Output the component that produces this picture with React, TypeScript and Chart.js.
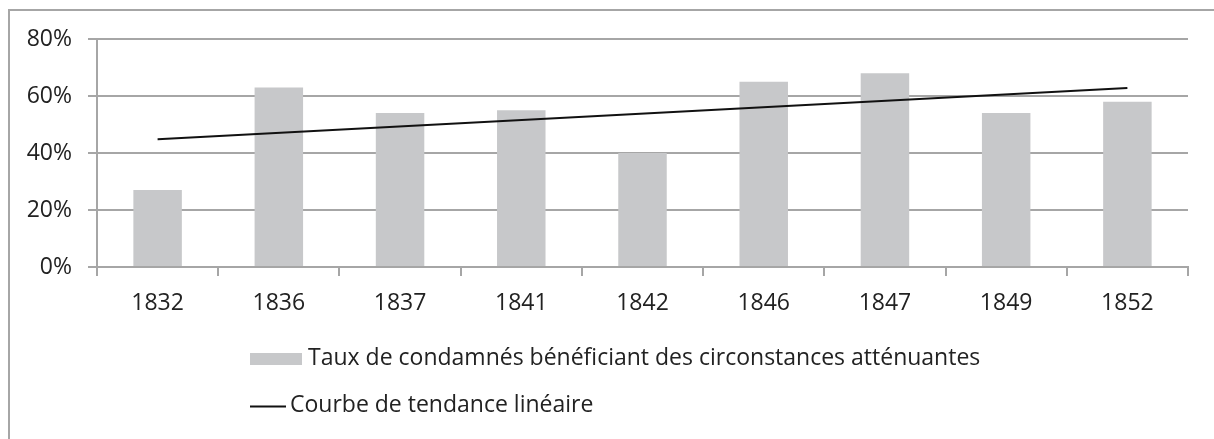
import React, { useEffect, useRef } from "react";
import { Chart, registerables } from "chart.js";

Chart.register(...registerables);

const categories = ["1832", "1836", "1837", "1841", "1842", "1846", "1847", "1849", "1852"];
const rateValues = [27, 63, 54, 55, 40, 65, 68, 54, 58];
const trendStart = 44.8;
const trendEnd = 62.8;
const yTicks = [0, 20, 40, 60, 80];
const barLabel = "Taux de condamnés bénéficiant des circonstances atténuantes";
const trendLabel = "Courbe de tendance linéaire";

const FONT = "'Open Sans'";
const TEXT = "#222222";
const GRID = "#a6a6a6";
const BAR = "#c7c8ca";

const legendPlugin = {
  id: "customLegend",
  afterDraw(chart: any) {
    const ctx = chart.ctx;
    ctx.save();
    ctx.font = `23px ${FONT}`;
    ctx.fillStyle = TEXT;
    ctx.textBaseline = "middle";
    ctx.textAlign = "left";
    const ds0 = chart.data.datasets[0];
    const ds1 = chart.data.datasets[1];
    // row 1: bar swatch
    ctx.fillStyle = ds0.backgroundColor;
    ctx.fillRect(250, 353, 52, 12);
    ctx.fillStyle = TEXT;
    ctx.fillText(ds0.label, 308, 358);
    // row 2: line swatch
    ctx.strokeStyle = ds1.borderColor;
    ctx.lineWidth = 2;
    ctx.beginPath();
    ctx.moveTo(250, 406.5);
    ctx.lineTo(286, 406.5);
    ctx.stroke();
    ctx.fillText(ds1.label, 290, 405);
    ctx.restore();
  },
};

export default function App() {
  const ref = useRef<HTMLCanvasElement | null>(null);
  useEffect(() => {
    if (!ref.current) return;
    const chart = new Chart(ref.current, {
      type: "bar",
      data: {
        labels: categories,
        datasets: [
          {
            type: "bar",
            label: barLabel,
            data: rateValues,
            backgroundColor: BAR,
            borderWidth: 0,
            barPercentage: 0.4,
            categoryPercentage: 1,
            order: 2,
          },
          {
            type: "line",
            label: trendLabel,
            data: [
              { x: categories[0], y: trendStart },
              { x: categories[categories.length - 1], y: trendEnd },
            ] as any,
            borderColor: "#111111",
            borderWidth: 2,
            pointRadius: 0,
            fill: false,
            order: 1,
          } as any,
        ],
      },
      options: {
        responsive: false,
        animation: false,
        devicePixelRatio: 1,
        layout: { padding: { left: 0, top: 39, right: 26, bottom: 112 } },
        plugins: {
          legend: { display: false },
          tooltip: { enabled: false },
          title: { display: false },
        },
        scales: {
          x: {
            offset: true,
            afterFit: (s: any) => {
              s.height = 60;
            },
            grid: {
              display: true,
              offset: true,
              drawOnChartArea: false,
              drawTicks: true,
              tickLength: 9,
              color: GRID,
              lineWidth: 2,
            },
            border: { display: true, color: GRID, width: 2 },
            ticks: {
              color: TEXT,
              font: { family: FONT, size: 23 },
              padding: 14,
              maxRotation: 0,
            },
          },
          y: {
            min: 0,
            max: 80,
            afterFit: (s: any) => {
              s.width = 97;
            },
            afterBuildTicks: (s: any) => {
              s.ticks = yTicks.map((v) => ({ value: v }));
            },
            grid: {
              display: true,
              drawTicks: true,
              tickLength: 9,
              color: GRID,
              lineWidth: 2,
            },
            border: { display: true, color: GRID, width: 2 },
            ticks: {
              color: TEXT,
              font: { family: FONT, size: 23 },
              padding: 16,
              callback: (v: any) => `${v}%`,
            },
          },
        },
      },
      plugins: [legendPlugin],
    });
    return () => chart.destroy();
  }, []);

  return (
    <div
      style={{
        position: "fixed",
        left: 0,
        top: 0,
        width: 1214,
        height: 439,
        overflow: "hidden",
        background: "#ffffff",
      }}
    >
      <div
        style={{
          position: "absolute",
          left: 8,
          top: 9,
          width: 1300,
          height: 600,
          border: "2px solid #a6a6a6",
          boxSizing: "border-box",
        }}
      />
      <canvas
        ref={ref}
        width={1214}
        height={439}
        style={{ position: "absolute", left: 0, top: 0, width: 1214, height: 439 }}
      />
    </div>
  );
}
